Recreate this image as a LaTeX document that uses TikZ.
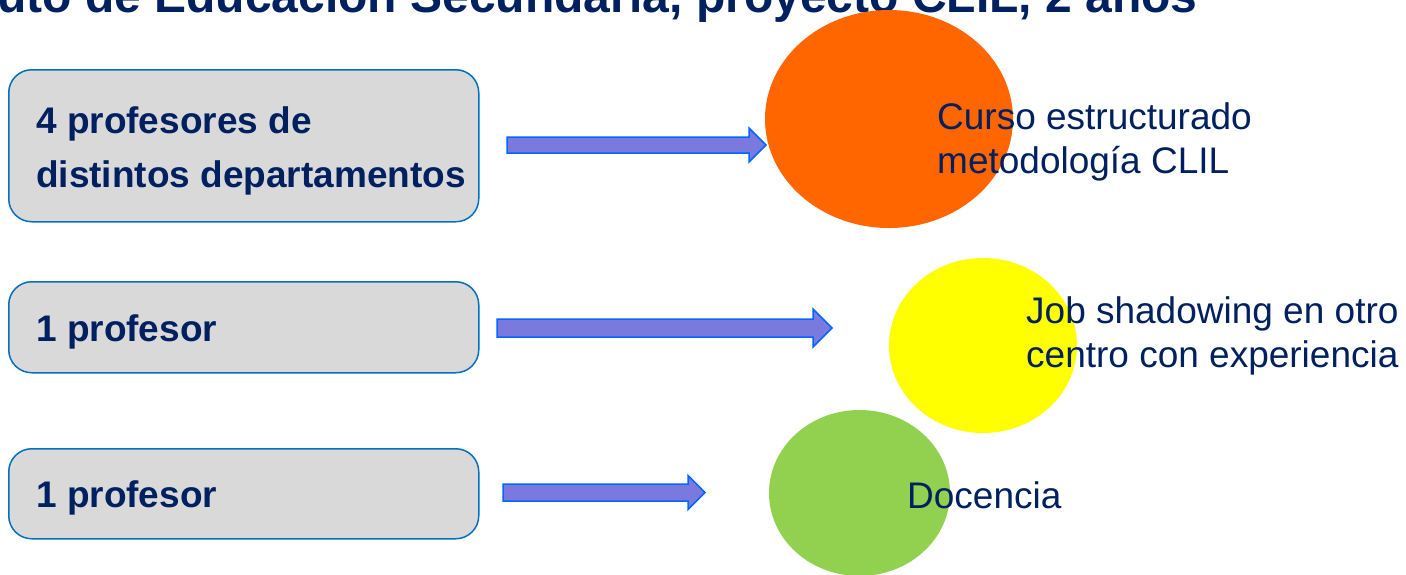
\documentclass[tikz,border=0pt]{standalone}
\usepackage{xcolor}
\usepackage{fontspec}
\setmainfont{Liberation Sans}
\usepackage{tikz}
\usetikzlibrary{calc, shapes.geometric}

\definecolor{navy}{RGB}{0,32,96}
\definecolor{boxgray}{RGB}{217,217,217}
\definecolor{boxline}{RGB}{0,112,192}
\definecolor{arrowfill}{RGB}{122,122,222}
\definecolor{arrowline}{RGB}{0,102,255}
\definecolor{circorange}{RGB}{255,102,0}
\definecolor{circyellow}{RGB}{255,255,0}
\definecolor{circgreen}{RGB}{146,208,80}

\tikzset{
  groupbox/.style={draw=boxline, line width=1.5pt, fill=boxgray, rounded corners=23pt, anchor=north west, inner sep=0pt},
  grouptext/.style={anchor=base west, inner sep=0pt, text=navy, align=left, font=\fontsize{37}{54}\selectfont\bfseries},
  actiontext/.style={anchor=base west, inner sep=0pt, text=navy, align=left, font=\fontsize{37}{44}\selectfont},
  blob/.style={ellipse, inner sep=0pt, draw=none},
  fatarrow/.style={draw=arrowline, line width=1.5pt, fill=arrowfill, line join=miter},
}

% block arrow: tail, tip, shaft half width, head half width, head length
\newcommand{\blockarrow}[5]{%
  \draw[fatarrow] ($(#1)+(0,-#3)$) -- ($(#2)+(-#5,-#3)$) -- ($(#2)+(-#5,-#4)$) -- (#2)
    -- ($(#2)+(-#5,#4)$) -- ($(#2)+(-#5,#3)$) -- ($(#1)+(0,#3)$) -- cycle;}

\begin{document}
\begin{tikzpicture}[x=1pt, y=-1pt]
\useasboundingbox (0,0) rectangle (1406,574);
\clip (0,0) rectangle (1406,574);

\node[anchor=base west, inner sep=0pt, text=navy, font=\fontsize{48}{48}\selectfont\bfseries] (title) at (-3,12) {uto de Educación Secundaria, proyecto CLIL, 2 años};

% left column
\node[groupbox, minimum width=470pt, minimum height=152pt] (cuatro) at (8,69) {};
\node[groupbox, minimum width=470pt, minimum height=91pt] (uno) at (8,281) {};
\node[groupbox, minimum width=470pt, minimum height=90pt] (otro) at (8,448) {};

% base anchor of a two-line node sits on its last line
\node[grouptext] (cuatrotxt) at (36,187) {4 profesores de\\distintos departamentos};
\node[grouptext] (unotxt) at (36,341) {1 profesor};
\node[grouptext] (otrotxt) at (36,507) {1 profesor};

% right column
\node[blob, fill=circorange, minimum width=248pt, minimum height=218pt] (curso) at (889,119) {};
\node[blob, fill=circyellow, minimum width=188pt, minimum height=175pt] (job) at (983,345.5) {};
\node[blob, fill=circgreen, minimum width=181pt, minimum height=166pt] (docencia) at (859.5,493) {};

\node[actiontext] (cursotxt) at (937,173) {Curso estructurado\\metodología CLIL};
\node[actiontext] (jobtxt) at (1026,367) {Job shadowing en otro\\centro con experiencia};
\node[actiontext] (docenciatxt) at (907,508) {Docencia};

% arrows
\coordinate (a1) at (507,145);
\coordinate (b1) at (766,145);
\coordinate (a2) at (497,328);
\coordinate (b2) at (832,328);
\coordinate (a3) at (503,492.5);
\coordinate (b3) at (705,492.5);
\blockarrow{a1}{b1}{8}{17}{17}
\blockarrow{a2}{b2}{9}{19}{19}
\blockarrow{a3}{b3}{8.5}{17}{17}
\end{tikzpicture}
\end{document}
